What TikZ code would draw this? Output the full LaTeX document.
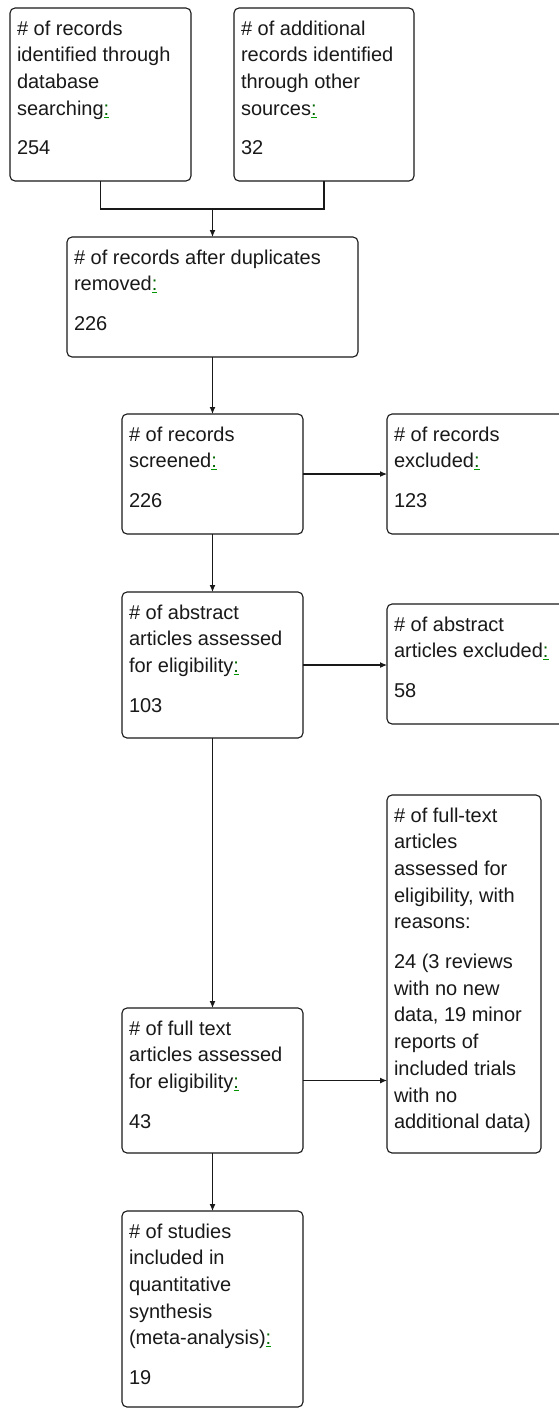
\documentclass[tikz,border=0pt]{standalone}
\usepackage{fontspec}
\setmainfont{Liberation Sans}
\usetikzlibrary{arrows.meta}
\definecolor{gline}{RGB}{0,150,0}
\definecolor{ink}{RGB}{25,25,25}
\newcommand\gcol{\textcolor{green!40!black}{:}\llap{\textcolor{gline}{\rule[-2.5pt]{5.5pt}{1.1pt}}}}
\newcommand\fl{\rule{0pt}{15pt}}
\tikzset{
  box/.style={draw=ink, line width=1.1pt, rounded corners=5pt, inner sep=0pt, outer sep=0pt},
  txt/.style={anchor=north west, inner sep=0pt, outer sep=0pt, align=left, text=ink,
    font={\fontsize{20}{26.7}\selectfont}},
  arr/.style={draw=ink, line width=1.1pt, -{Latex[length=7pt,width=6pt]}},
  ln/.style={draw=ink, line width=1.1pt},
}
\begin{document}
\begin{tikzpicture}[x=1pt,y=-1pt]
\useasboundingbox (0,0) rectangle (559,1408);
\clip (0,0) rectangle (559,1408);
\fill[white] (0,0) rectangle (559,1408);

% boxes
\node[box, minimum width=181, minimum height=173] (b1) at (100.5,94.5) {};
\node[box, minimum width=180, minimum height=173] (b2) at (324,94.5) {};
\node[box, minimum width=291, minimum height=120] (b3) at (212.5,297) {};
\node[box, minimum width=181, minimum height=120] (b4) at (212.5,474) {};
\node[box, minimum width=213, minimum height=120] (b5) at (493.5,474) {};
\node[box, minimum width=181, minimum height=146] (b6) at (212.5,665) {};
\node[box, minimum width=213, minimum height=120] (b7) at (493.5,664) {};
\node[box, minimum width=154, minimum height=358] (b8) at (464,974) {};
\node[box, minimum width=181, minimum height=145] (b9) at (212.5,1080.5) {};
\node[box, minimum width=181, minimum height=196] (b10) at (212.5,1309) {};

% texts
\node[txt] (t1) at (17,20) {\fl\# of records\\identified through\\database\\searching\gcol\\[13pt]254};
\node[txt] (t2) at (241,20) {\fl\# of additional\\records identified\\through other\\sources\gcol\\[13pt]32};
\node[txt] (t3) at (74,249) {\fl\# of records after duplicates\\removed\gcol\\[13pt]226};
\node[txt] (t4) at (129,426) {\fl\# of records\\screened\gcol\\[13pt]226};
\node[txt] (t5) at (394,426) {\fl\# of records\\excluded\gcol\\[13pt]123};
\node[txt] (t6) at (129,604) {\fl\# of abstract\\articles assessed\\for eligibility\gcol\\[13pt]103};
\node[txt] (t7) at (394,616) {\fl\# of abstract\\articles excluded\gcol\\[13pt]58};
\node[txt] (t8) at (394,807) {\fl\# of full-text\\articles\\assessed for\\eligibility, with\\reasons:\\[13pt]24 (3 reviews\\with no new\\data, 19 minor\\reports of\\included trials\\with no\\additional data)};
\node[txt] (t9) at (129,1020) {\fl\# of full text\\articles assessed\\for eligibility\gcol\\[13pt]43};
\node[txt] (t10) at (129,1223) {\fl\# of studies\\included in\\quantitative\\synthesis\\(meta-analysis)\gcol\\[13pt]19};

% connectors
\coordinate (j) at (212.5,209);
\draw[ln] (b1.south) |- (j) -| (b2.south);
\draw[arr] (j) -- (b3.north);
\draw[arr] (b3.south) -- (b4.north);
\draw[arr] (b4.south) -- (b6.north);
\draw[arr] (b6.south) -- (b9.north);
\draw[arr] (b9.south) -- (b10.north);
\draw[arr] (b4.east) -- (b5.west);
\draw[arr] (b6.east) -- (b6.east -| b7.west);
\draw[arr] (b9.east) -- (b9.east -| b8.west);
\end{tikzpicture}
\end{document}
